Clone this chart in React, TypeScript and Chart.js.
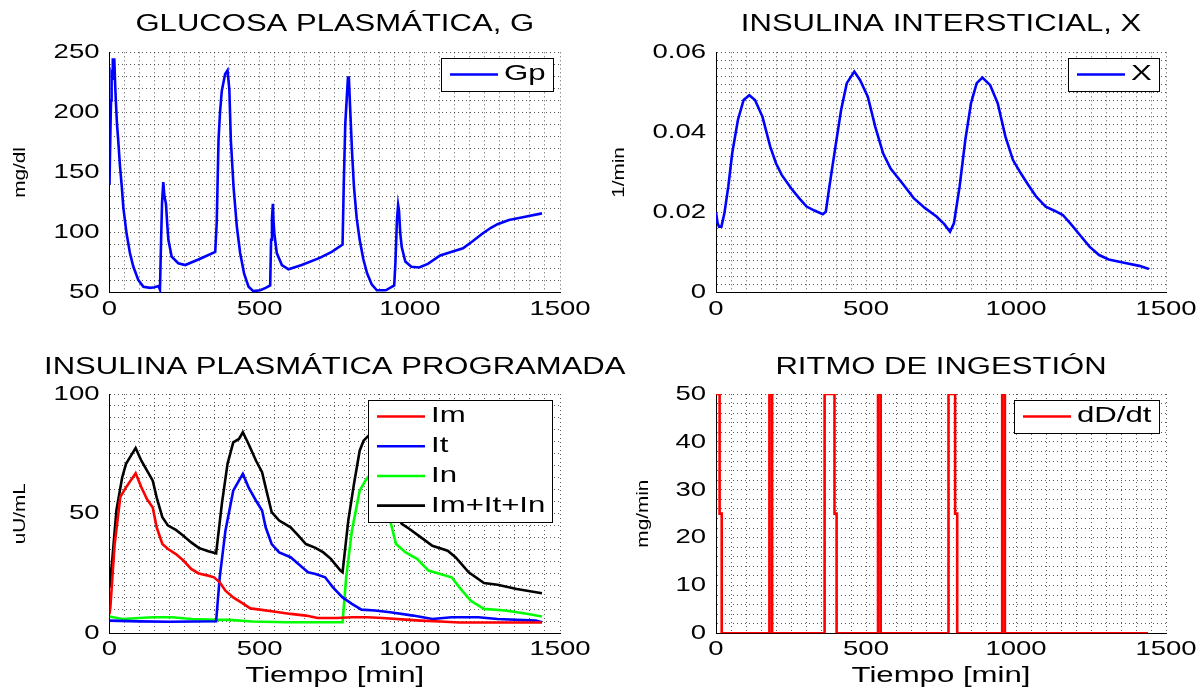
import React, { useEffect, useRef } from 'react';
import { Chart, registerables } from 'chart.js';

Chart.register(...registerables);

const FONT = '"Liberation Sans", Arial, Helvetica, sans-serif';
const GRID_COLOR = 'rgba(0,0,0,0.65)';
const LINE_W = 2.6;
const Y_TITLE_SIZE = 17;

// ---------------- DATA ----------------
// Glucosa plasmática Gp [mg/dl]
const glucoseTime = [0, 2, 5, 7, 9, 11, 16, 19, 22, 25, 29, 35, 41, 46, 57, 68, 79, 96, 113, 135, 150, 163, 168, 172, 175, 179, 183, 188, 192, 196, 207, 229, 252, 300, 352, 357, 363, 368, 374, 385, 393, 399, 404, 413, 424, 435, 448, 463, 479, 502, 520, 535, 538, 541, 544, 546, 549, 557, 574, 596, 640, 700, 740, 776, 780, 785, 790, 794, 797, 801, 808, 814, 823, 833, 845, 858, 873, 890, 920, 948, 952, 957, 961, 964, 968, 973, 985, 1005, 1031, 1060, 1101, 1140, 1177, 1210, 1241, 1270, 1292, 1330, 1380, 1440];
const glucoseValues = [140, 170, 210, 230, 228, 244, 244, 222, 205, 190, 177, 155, 138, 121, 99, 83, 72, 60.5, 55, 54, 54.5, 55.5, 52.5, 96, 125, 142, 130, 124, 108, 94, 80, 74.5, 73, 78, 84, 108, 177, 200, 218, 232, 235, 219, 177, 138, 105, 83, 66, 55, 51.3, 52, 54, 56, 94, 112, 124, 110, 99, 83, 73, 69.5, 73, 79, 84, 90, 140, 190, 212, 229, 229, 205, 165, 138, 112, 94, 78, 66, 57, 52, 52, 56, 75, 110, 123, 118, 100, 88, 76, 71.6, 71, 74, 81, 84, 87, 93, 99, 104, 107, 110.5, 113, 116];

// Insulina intersticial X [1/min]
const xTime = [0, 5, 10, 18, 28, 41, 54, 73, 92, 111, 130, 155, 181, 200, 219, 251, 277, 302, 328, 356, 366, 378, 398, 417, 436, 461, 480, 506, 531, 557, 582, 621, 659, 697, 735, 761, 780, 793, 812, 831, 850, 869, 888, 914, 939, 965, 990, 1016, 1041, 1067, 1099, 1130, 1156, 1181, 1213, 1245, 1277, 1309, 1360, 1411, 1443];
const xValues = [0.0200, 0.0175, 0.0165, 0.0165, 0.0198, 0.0265, 0.0348, 0.0431, 0.0481, 0.0493, 0.0481, 0.0439, 0.0364, 0.0323, 0.0294, 0.0260, 0.0236, 0.0215, 0.0205, 0.0196, 0.0202, 0.0265, 0.0364, 0.0456, 0.0523, 0.0552, 0.0531, 0.0489, 0.0414, 0.0348, 0.0310, 0.0273, 0.0236, 0.0211, 0.0190, 0.0171, 0.0152, 0.0173, 0.0265, 0.0381, 0.0473, 0.0523, 0.0537, 0.0518, 0.0473, 0.0389, 0.0331, 0.0298, 0.0269, 0.0240, 0.0215, 0.0204, 0.0194, 0.0173, 0.0144, 0.0115, 0.0094, 0.0083, 0.0075, 0.0067, 0.0059];

// Insulina plasmática programada [uU/mL]
const imTime = [0, 3, 17, 36, 55, 74, 87, 106, 125, 144, 157, 176, 195, 221, 246, 272, 297, 329, 348, 367, 386, 412, 437, 469, 501, 552, 603, 654, 693, 756, 807, 858, 909, 986, 1037, 1101, 1165, 1292, 1440];
const imValues = [8, 11, 37, 57, 61, 64.5, 66.9, 61, 56, 52.6, 44.3, 37.3, 35.2, 33.1, 30.4, 26.9, 25, 24.1, 23.4, 21.3, 17.8, 15, 13, 10.4, 9.9, 9, 8.1, 7.4, 6.4, 6.4, 6.7, 6.7, 6.4, 5.7, 5.3, 4.9, 4.5, 4.5, 4.5];

const itTime = [0, 100, 200, 355, 367, 386, 412, 431, 444, 463, 488, 508, 520, 540, 565, 603, 629, 661, 686, 718, 744, 776, 807, 839, 884, 935, 1011, 1075, 1139, 1228, 1292, 1420, 1440];
const itValues = [5.3, 5, 4.8, 5, 23.4, 42.9, 59.6, 63.8, 66.6, 61, 55.4, 51.3, 44.3, 37.3, 33.8, 31.8, 29, 25.5, 24.8, 23.4, 19.2, 15, 12.3, 9.9, 9.5, 8.8, 7.4, 6, 6.7, 6.7, 6, 5.3, 4.6];

const inTime = [0, 42, 144, 208, 272, 355, 399, 476, 590, 776, 788, 807, 833, 852, 865, 884, 905, 924, 940, 954, 986, 1024, 1062, 1101, 1139, 1165, 1203, 1247, 1318, 1394, 1440];
const inValues = [7, 6, 6.7, 6.7, 6, 5.6, 5.6, 4.9, 4.6, 4.6, 23.4, 42.9, 59.6, 63.8, 66, 61, 56, 52.6, 44.3, 37.3, 33.8, 31.1, 26.2, 24.8, 23.4, 19.2, 13.6, 10.2, 9.5, 8.1, 7];

const sumTime = [0, 10, 23, 42, 55, 68, 87, 106, 125, 144, 157, 176, 195, 221, 246, 272, 297, 329, 355, 374, 393, 412, 431, 444, 463, 488, 508, 520, 540, 565, 603, 629, 654, 686, 712, 737, 769, 776, 795, 814, 833, 846, 866, 886, 906, 925, 940, 955, 973, 999, 1037, 1075, 1126, 1152, 1196, 1247, 1292, 1356, 1440];
const sumValues = [19, 31.8, 51.3, 65, 70.8, 73.5, 77.4, 72.1, 68, 63.8, 56.8, 48.5, 45, 43.2, 40.8, 38, 35.7, 34.3, 33.4, 54, 70.8, 79.8, 81.2, 84, 79.1, 72.1, 67.3, 61, 50.6, 47.1, 44.3, 40.8, 37.3, 35.7, 33.8, 31.1, 26.2, 25.5, 47.1, 62.4, 76.3, 80.5, 83, 78, 72, 66, 56, 50, 45.7, 43.6, 40.1, 36.6, 34.5, 31.8, 25.5, 21, 20.3, 18.5, 16.7];

// Ritmo de ingestión dD/dt [mg/min]
const ingTime = [0, 12, 12, 19, 19, 178, 178, 187, 187, 362, 362, 395, 395, 402, 402, 540, 540, 549, 549, 775, 775, 797, 797, 804, 804, 954, 954, 963, 963, 1440];
const ingValues = [50, 50, 25, 25, 0, 0, 50, 50, 0, 0, 50, 50, 25, 25, 0, 0, 50, 50, 0, 0, 50, 50, 25, 25, 0, 0, 50, 50, 0, 0];

const xTickMajor = 500;

// ---------------- HELPERS ----------------
const TEXT_WIDEN: Record<string, number> = { '21': 1.31, '23': 1.35, '21.5': 1.45, '17': 1.22 };

function widenText(ctx: CanvasRenderingContext2D) {
  const anyCtx = ctx as any;
  if (anyCtx.__widened) return;
  anyCtx.__widened = true;
  const orig = ctx.fillText.bind(ctx);
  anyCtx.fillText = (text: string, x: number, y: number) => {
    const m = /(\d+(?:\.\d+)?)px/.exec(ctx.font);
    const sx = (m && TEXT_WIDEN[m[1]]) || 1.35;
    ctx.save();
    ctx.translate(x, y);
    ctx.scale(sx, 1);
    orig(text, 0, 0);
    ctx.restore();
  };
}

function pts(t: number[], v: number[]) {
  return t.map((x, i) => ({ x, y: v[i] }));
}

const legendPlugin = {
  id: 'boxLegend',
  afterDatasetsDraw(chart: any) {
    const { ctx, chartArea } = chart;
    const items = chart.data.datasets.map((d: any) => ({ label: d.label, color: d.borderColor }));
    ctx.save();
    ctx.font = `21.5px ${FONT}`;
    const widen = TEXT_WIDEN['21.5'];
    const textW = Math.max(...items.map((it: any) => ctx.measureText(it.label).width * widen));
    const padL = 9, lineLen = 48, gap = 6, padR = 7, rowH = 29.7, padV = 1.7;
    const w = padL + lineLen + gap + textW + padR;
    const h = items.length * rowH + 2 * padV;
    const x = Math.round(chartArea.right - 7.5 - w);
    const y = Math.round(chartArea.top + 6);
    ctx.fillStyle = '#ffffff';
    ctx.fillRect(x, y, w, h);
    ctx.strokeStyle = '#000000';
    ctx.lineWidth = 1;
    ctx.strokeRect(x + 0.5, y + 0.5, Math.round(w), Math.round(h));
    items.forEach((it: any, i: number) => {
      const cy = y + padV + rowH * (i + 0.5);
      ctx.strokeStyle = it.color;
      ctx.lineWidth = LINE_W;
      ctx.beginPath();
      ctx.moveTo(x + padL, cy);
      ctx.lineTo(x + padL + lineLen, cy);
      ctx.stroke();
      ctx.fillStyle = '#000000';
      ctx.textAlign = 'left';
      ctx.textBaseline = 'middle';
      ctx.fillText(it.label, x + padL + lineLen + gap, cy);
    });
    ctx.restore();
  },
};

type Area = { l: number; r: number; t: number; b: number };

type PanelSpec = {
  datasets: any[];
  title: string;
  titleY: number;
  yTitle: string;
  yTitleX: number;
  xTitle?: string;
  yMin: number;
  yMax: number;
  yStep: number;
  yFmt: (v: number) => string;
  canvasW: number;
  canvasH: number;
  area: Area;
};

function buildConfig(p: PanelSpec): any {
  const titleSize = 23;
  const titleH = titleSize * 1.2;
  const padTop = p.titleY - titleH / 2;
  const padBottom = p.area.t - titleH - padTop;
  const yTitleLH = Y_TITLE_SIZE * 1.2;
  return {
    type: 'line',
    data: { datasets: p.datasets },
    options: {
      responsive: false,
      animation: false,
      devicePixelRatio: 1,
      events: [],
      layout: { padding: { left: 0, top: 0, right: p.canvasW - p.area.r, bottom: 0 } },
      plugins: {
        legend: { display: false },
        tooltip: { enabled: false },
        title: {
          display: true,
          text: p.title,
          color: '#000000',
          fullSize: false,
          font: { family: FONT, size: titleSize, weight: 'normal', lineHeight: 1.2 },
          padding: { top: padTop, bottom: padBottom },
        },
      },
      elements: {
        point: { radius: 0 },
        line: { tension: 0, borderWidth: LINE_W },
      },
      scales: {
        x: {
          type: 'linear',
          min: 0,
          max: 1500,
          afterFit: (s: any) => { s.height = p.canvasH - p.area.b; },
          ticks: {
            stepSize: 50,
            autoSkip: false,
            maxRotation: 0,
            padding: 3.5,
            color: '#000000',
            font: { family: FONT, size: 21 },
            callback: (v: number) => (v % xTickMajor === 0 ? String(v) : ''),
          },
          grid: { color: GRID_COLOR, lineWidth: 1, drawTicks: false },
          border: { display: true, color: '#000000', width: 1, dash: [1, 3] },
          title: p.xTitle
            ? {
                display: true,
                text: p.xTitle,
                color: '#000000',
                font: { family: FONT, size: 21.5, lineHeight: 1.07 },
                padding: { top: 0, bottom: 0 },
              }
            : { display: false },
        },
        y: {
          type: 'linear',
          min: p.yMin,
          max: p.yMax,
          afterFit: (s: any) => { s.width = p.area.l; },
          ticks: {
            stepSize: p.yStep,
            autoSkip: false,
            padding: 10,
            color: '#000000',
            font: { family: FONT, size: 21 },
            callback: (v: number) => p.yFmt(v),
          },
          grid: { color: GRID_COLOR, lineWidth: 1, drawTicks: false },
          border: { display: true, color: '#000000', width: 1, dash: [1, 3] },
          title: {
            display: true,
            text: p.yTitle,
            color: '#000000',
            font: { family: FONT, size: Y_TITLE_SIZE, lineHeight: 1.2 },
            padding: { top: p.yTitleX - yTitleLH / 2, bottom: 0 },
          },
        },
      },
    },
    plugins: [legendPlugin],
  };
}

function Panel({ left, top, spec }: { left: number; top: number; spec: PanelSpec }) {
  const ref = useRef<HTMLCanvasElement>(null);
  useEffect(() => {
    const canvas = ref.current as HTMLCanvasElement;
    const ctx = canvas.getContext('2d') as CanvasRenderingContext2D;
    widenText(ctx);
    const chart = new Chart(ctx, buildConfig(spec));
    return () => chart.destroy();
  }, []);
  return (
    <canvas
      ref={ref}
      width={spec.canvasW}
      height={spec.canvasH}
      style={{ position: 'absolute', left, top, width: spec.canvasW, height: spec.canvasH }}
    />
  );
}

const line = (label: string, color: string, t: number[], v: number[]) => ({
  label,
  data: pts(t, v),
  borderColor: color,
  backgroundColor: color,
  borderWidth: LINE_W,
  pointRadius: 0,
  fill: false,
});

const majorFmt = (step: number, dec: number) => (v: number) => {
  const r = v / step;
  if (Math.abs(r - Math.round(r)) > 1e-6) return '';
  const val = Math.round(v * Math.pow(10, dec)) / Math.pow(10, dec);
  return String(val);
};

const topLeft: PanelSpec = {
  datasets: [line('Gp', '#0000ff', glucoseTime, glucoseValues)],
  title: 'GLUCOSA PLASMÁTICA, G',
  titleY: 25,
  yTitle: 'mg/dl',
  yTitleX: 20.5,
  yMin: 50,
  yMax: 250,
  yStep: 10,
  yFmt: majorFmt(50, 0),
  canvasW: 600,
  canvasH: 344,
  area: { l: 109.5, r: 560, t: 52.3, b: 292.7 },
};

const topRight: PanelSpec = {
  datasets: [line('X', '#0000ff', xTime, xValues)],
  title: 'INSULINA INTERSTICIAL, X',
  titleY: 25,
  yTitle: '1/min',
  yTitleX: 19,
  yMin: 0,
  yMax: 0.06,
  yStep: 0.002,
  yFmt: majorFmt(0.02, 2),
  canvasW: 600,
  canvasH: 344,
  area: { l: 116, r: 566, t: 52.3, b: 292.7 },
};

const bottomLeft: PanelSpec = {
  datasets: [
    line('Im', '#ff0000', imTime, imValues),
    line('It', '#0000ff', itTime, itValues),
    line('In', '#00ff00', inTime, inValues),
    line('Im+It+In', '#000000', sumTime, sumValues),
  ],
  title: 'INSULINA PLASMÁTICA PROGRAMADA',
  titleY: 23.4,
  yTitle: 'uU/mL',
  yTitleX: 20.5,
  xTitle: 'Tiempo [min]',
  yMin: 0,
  yMax: 100,
  yStep: 5,
  yFmt: majorFmt(50, 0),
  canvasW: 670,
  canvasH: 344,
  area: { l: 109.5, r: 560, t: 50, b: 289.3 },
};

const bottomRight: PanelSpec = {
  datasets: [line('dD/dt', '#ff0000', ingTime, ingValues)],
  title: 'RITMO DE INGESTIÓN',
  titleY: 23.4,
  yTitle: 'mg/min',
  yTitleX: 43,
  xTitle: 'Tiempo [min]',
  yMin: 0,
  yMax: 50,
  yStep: 2,
  yFmt: majorFmt(10, 0),
  canvasW: 600,
  canvasH: 344,
  area: { l: 116, r: 566, t: 50, b: 289.3 },
};

export default function App() {
  return (
    <div
      style={{
        position: 'absolute',
        left: 0,
        top: 0,
        width: 1200,
        height: 688,
        background: '#ffffff',
        overflow: 'hidden',
      }}
    >
      <Panel left={0} top={0} spec={topLeft} />
      <Panel left={600} top={0} spec={topRight} />
      <Panel left={0} top={344} spec={bottomLeft} />
      <Panel left={600} top={344} spec={bottomRight} />
    </div>
  );
}
